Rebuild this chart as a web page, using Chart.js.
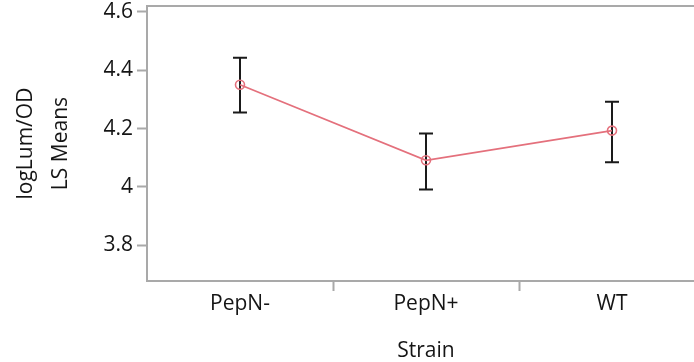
<!DOCTYPE html>
<html><head><meta charset="utf-8">
<script src="https://cdn.jsdelivr.net/npm/chart.js@4"></script>
<style>html,body{margin:0;padding:0;overflow:hidden;background:#fff}
#wrap{width:712px;height:362px;position:relative}</style></head>
<body><div id="wrap"><canvas id="c"></canvas></div>
<script>
const categories = ['PepN-', 'PepN+', 'WT'];
const lsMeans = [4.350, 4.091, 4.193];
const upperCI = [4.443, 4.183, 4.292];
const lowerCI = [4.255, 3.991, 4.084];
const yTickValues = [3.8, 4.0, 4.2, 4.4, 4.6];
const yTickLabels = ['3.8', '4', '4.2', '4.4', '4.6'];
const yTitleLines = ['logLum/OD', 'LS Means'];
const xTitle = 'Strain';

const AXIS = '#a9a9a9';
const TEXT = '#151515';
const LINE = '#e4707c';
const FONT = "'Open Sans', sans-serif";

const errorBars = {
  id: 'errorBars',
  beforeDatasetsDraw(chart) {
    const ctx = chart.ctx, x = chart.scales.x, y = chart.scales.y;
    ctx.save();
    ctx.strokeStyle = '#1a1a1a';
    ctx.lineWidth = 2;
    const cap = 7;
    categories.forEach((c, i) => {
      const px = x.getPixelForValue(i);
      const yt = y.getPixelForValue(upperCI[i]);
      const yb = y.getPixelForValue(lowerCI[i]);
      ctx.beginPath();
      ctx.moveTo(px, yt); ctx.lineTo(px, yb);
      ctx.moveTo(px - cap, yt); ctx.lineTo(px + cap, yt);
      ctx.moveTo(px - cap, yb); ctx.lineTo(px + cap, yb);
      ctx.stroke();
    });
    ctx.restore();
  }
};
const topBorder = {
  id: 'topBorder',
  afterDraw(chart) {
    const a = chart.chartArea, ctx = chart.ctx;
    ctx.save();
    ctx.strokeStyle = AXIS; ctx.lineWidth = 2;
    ctx.beginPath(); ctx.moveTo(a.left - 1, a.top); ctx.lineTo(a.right, a.top); ctx.stroke();
    ctx.restore();
  }
};

new Chart(document.getElementById('c'), {
  type: 'line',
  data: {
    labels: categories,
    datasets: [{
      data: lsMeans,
      borderColor: LINE,
      borderWidth: 1.7,
      pointStyle: 'circle',
      pointRadius: 4.5,
      pointBorderWidth: 1.6,
      pointBorderColor: LINE,
      pointBackgroundColor: 'rgba(0,0,0,0)',
      tension: 0
    }]
  },
  options: {
    responsive: true,
    maintainAspectRatio: false,
    animation: false,
    events: [],
    layout: { padding: { top: 5, right: 7, left: 0, bottom: 0 } },
    plugins: { legend: { display: false }, tooltip: { enabled: false } },
    scales: {
      x: {
        type: 'category',
        offset: true,
        afterFit(s) { s.height = 81; s.paddingLeft = 0; s.paddingRight = 0; },
        border: { display: true, color: AXIS, width: 2 },
        grid: {
          offset: true, drawOnChartArea: false, drawTicks: true, tickLength: 10,
          tickColor: (c) => c.index === 0 ? 'rgba(0,0,0,0)' : AXIS, tickWidth: 2
        },
        ticks: { color: TEXT, font: { family: FONT, size: 21 }, padding: 0, maxRotation: 0 },
        title: { display: true, text: xTitle, color: TEXT, font: { family: FONT, size: 21 }, padding: { top: 4, bottom: -1.5 } }
      },
      y: {
        min: 3.677, max: 4.62,
        afterFit(s) { s.width = 147; s.paddingTop = 0; s.paddingBottom = 0; },
        afterBuildTicks(s) { s.ticks = yTickValues.map(v => ({ value: v })); },
        border: { display: true, color: AXIS, width: 2 },
        grid: { drawOnChartArea: false, drawTicks: true, tickLength: 10, tickColor: AXIS, tickWidth: 2 },
        ticks: {
          color: TEXT, font: { family: FONT, size: 21 }, padding: 4,
          callback: (v) => yTickLabels[yTickValues.indexOf(v)]
        },
        title: { display: true, text: yTitleLines, color: TEXT, font: { family: FONT, size: 21, lineHeight: 1.65 }, padding: { top: 9, bottom: 0 } }
      }
    }
  },
  plugins: [errorBars, topBorder]
});
</script></body></html>
